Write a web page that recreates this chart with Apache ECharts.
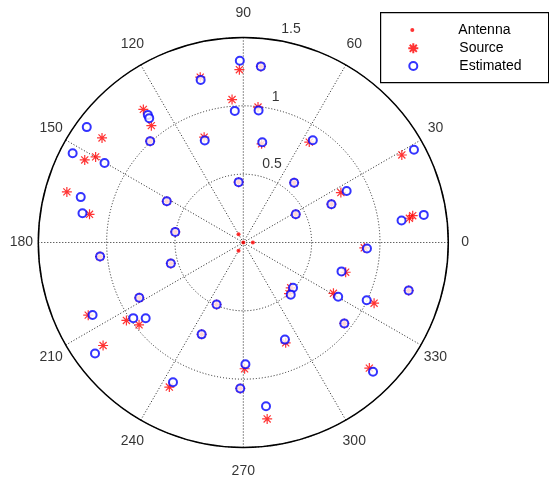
<!DOCTYPE html>
<html><head><meta charset="utf-8">
<script src="https://cdn.jsdelivr.net/npm/echarts@6/dist/echarts.min.js"></script>
<style>html,body{margin:0;padding:0;background:#fff}#c{width:549px;height:483px}</style>
</head><body><div id="c"></div>
<script>
// ---- data (radius, angle in degrees) ----
const antennaR = [0, 0.07, 0.07, 0.07];
const antennaTheta = [0, 0, 120, 240];

const sourceR = [1.265,1.295,1.250,1.049,0.997,1.218,1.088,1.286,1.007,0.822,0.734,1.308,1.249,0.443,1.343,1.144,0.636,0.504,0.879,1.325,0.574,0.802,0.703,0.436,1.228,1.255,0.886,0.780,1.260,0.480,0.502,0.757,1.055,0.947,0.797,1.302,1.053,0.552,0.862,1.253,1.028,0.972,0.494,0.738,1.273,0.924,1.188,1.068,1.303];
const sourceTheta = [91.3,84.3,104.6,94.5,83.8,126.9,128.2,143.5,132.6,110.4,79.5,152.5,149.9,94.4,164.0,169.6,151.7,171.2,56.7,28.9,49.6,27.1,23.5,28.3,8.3,9.0,357.5,343.8,343.8,316.3,311.8,330.6,335.1,321.3,292.9,315.1,185.6,196.1,208.0,205.1,213.7,218.3,246.7,245.6,216.3,270.6,242.9,268.8,277.7];

const estR = [1.330,1.295,1.230,0.965,0.973,1.166,1.141,1.423,1.007,0.798,0.747,1.409,1.170,0.443,1.235,1.196,0.636,0.504,0.905,1.421,0.574,0.845,0.703,0.436,1.169,1.336,0.906,0.749,1.260,0.492,0.516,0.800,0.997,0.947,0.773,1.340,1.053,0.552,0.862,1.224,0.977,0.904,0.494,0.738,1.355,0.891,1.145,1.068,1.209];
const estTheta = [91.1,84.3,104.7,93.7,83.4,126.8,127.1,143.6,132.6,110.7,79.3,152.4,150.2,94.4,164.4,169.7,151.7,171.2,55.8,28.5,49.6,26.5,23.5,28.3,7.9,8.7,357.2,343.6,343.8,317.7,312.3,330.2,334.9,321.3,293.2,315.1,185.6,196.1,208.0,205.7,214.5,217.8,246.7,245.6,216.8,271.0,243.3,268.8,277.9];

const angleTicks = [0,30,60,90,120,150,180,210,240,270,300,330];
const ringTicks = [0.5, 1, 1.5];
const rMax = 1.5;
const seriesNames = ['Antenna','Source','Estimated'];

// ---- chart ----
const FONT = 'Liberation Sans, Arial, Helvetica, sans-serif';
const pair = (R, T) => R.map((r, i) => [r, T[i]]);
const asterisk = 'path://M5,0L5,10M0,5L10,5M1.46,1.46L8.54,8.54M1.46,8.54L8.54,1.46';
const legendText = (pad) => ({fontSize: 14, color: '#000', fontFamily: FONT, padding: [0, 0, 0, pad]});
// the original axes were slightly wider than tall; nudge angle labels accordingly
const RADIUS = 205, RX = 201.7, RY = 208.3, LBL = rMax * 1.1;
const lblOffset = a => {
  const t = a * Math.PI / 180, d = LBL / rMax;
  return [d * (RX - RADIUS) * Math.cos(t), -d * (RY - RADIUS) * Math.sin(t)];
};

const chart = echarts.init(document.getElementById('c'), null, {renderer: 'canvas'});
chart.setOption({
  animation: false,
  backgroundColor: '#fff',
  polar: {center: [243.3, 242.5], radius: RADIUS},
  angleAxis: {
    type: 'value', min: 0, max: 360, interval: 30, startAngle: 0, clockwise: false,
    axisLine: {show: true, lineStyle: {color: '#000', width: 1.5}},
    axisTick: {show: false},
    axisLabel: {show: false},
    splitLine: {show: true, lineStyle: {color: '#222', width: 1, type: [1, 2]}}
  },
  radiusAxis: {
    type: 'value', min: 0, max: rMax, interval: 0.5,
    axisLine: {show: false}, axisTick: {show: false}, axisLabel: {show: false},
    splitLine: {show: true, lineStyle: {color: '#222', width: 1, type: [1, 2]}}
  },
  graphic: [{
    type: 'rect', left: 380, top: 12, z: 1,
    shape: {width: 168, height: 70},
    style: {fill: '#fff', stroke: '#000', lineWidth: 1.2}
  }],
  legend: [
    {data: [seriesNames[0]], left: 410.3, top: 23, itemWidth: 4, itemHeight: 4, padding: 0, z: 10,
     textStyle: legendText(39)},
    {data: [seriesNames[1]], left: 407.3, top: 41.3, itemWidth: 10, itemHeight: 10, padding: 0, z: 10,
     textStyle: legendText(36)},
    {data: [seriesNames[2]], left: 408.3, top: 59, itemWidth: 8, itemHeight: 8, padding: 0, z: 10,
     textStyle: legendText(37)}
  ],
  series: [
    {name: seriesNames[0], type: 'scatter', coordinateSystem: 'polar', symbol: 'circle', symbolSize: 4,
     itemStyle: {color: '#ff0000'}, data: pair(antennaR, antennaTheta)},
    {name: seriesNames[1], type: 'scatter', coordinateSystem: 'polar', symbol: asterisk, symbolSize: 10,
     itemStyle: {color: '#ff0000', borderColor: '#ff0000', borderWidth: 1.2}, data: pair(sourceR, sourceTheta)},
    {name: seriesNames[2], type: 'scatter', coordinateSystem: 'polar', symbol: 'emptyCircle', symbolSize: 8,
     itemStyle: {color: '#0000ff', borderColor: '#0000ff', borderWidth: 1}, data: pair(estR, estTheta)},
    {name: '_angleLabels', type: 'scatter', coordinateSystem: 'polar', clip: false, silent: true,
     symbolSize: 0,
     label: {show: true, position: 'inside', formatter: '{b}', color: '#000', fontSize: 14, fontFamily: FONT},
     data: angleTicks.map(a => ({name: String(a), value: [LBL, a], label: {offset: lblOffset(a)}}))},
    {name: '_ringLabels', type: 'scatter', coordinateSystem: 'polar', clip: false, silent: true,
     symbolSize: 0,
     label: {show: true, position: 'right', distance: 9, offset: [0, -7], formatter: '{b}', color: '#000', fontSize: 14, fontFamily: FONT},
     data: ringTicks.map(r => ({name: String(r), value: [r + 0.025, 82]}))}
  ]
});
</script></body></html>
